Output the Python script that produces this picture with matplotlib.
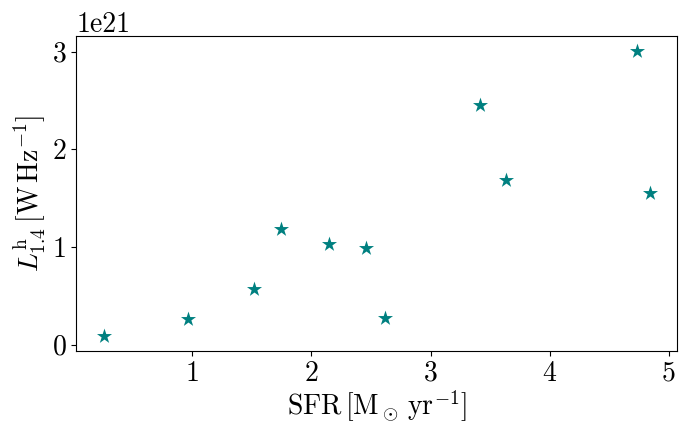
import matplotlib
matplotlib.use("Agg")
import matplotlib.pyplot as plt

plt.rcParams["font.family"] = "cmr10"
plt.rcParams["mathtext.fontset"] = "cm"
plt.rcParams["axes.unicode_minus"] = False
plt.rcParams["axes.formatter.use_mathtext"] = False

# star formation rate [Msun/yr] and 1.4 GHz luminosity [W/Hz]
sfr = [0.255, 0.961, 1.516, 1.745, 2.151, 2.462, 2.619, 3.418, 3.634, 4.734, 4.843]
lum_14 = [0.085e21, 0.266e21, 0.57e21, 1.188e21, 1.031e21, 0.99e21,
          0.273e21, 2.452e21, 1.69e21, 3.01e21, 1.557e21]

fig = plt.figure(figsize=(6.87, 4.23), dpi=100)
ax = fig.add_axes([0.111, 0.171, 0.875, 0.743])

ax.scatter(sfr, lum_14, marker="*", s=130, color="teal", linewidths=0)

ax.set_xlabel(r"${\rm SFR}\,[{\rm M_\odot\,yr^{-1}}]$", fontsize=20, labelpad=1)
ax.set_ylabel(r"$L^{\rm h}_{1.4}\,[{\rm W\,Hz^{-1}}]$", fontsize=20, labelpad=3)
ax.tick_params(labelsize=20)
ax.yaxis.get_offset_text().set_fontsize(20)

fig.savefig("out.png", dpi=100)
